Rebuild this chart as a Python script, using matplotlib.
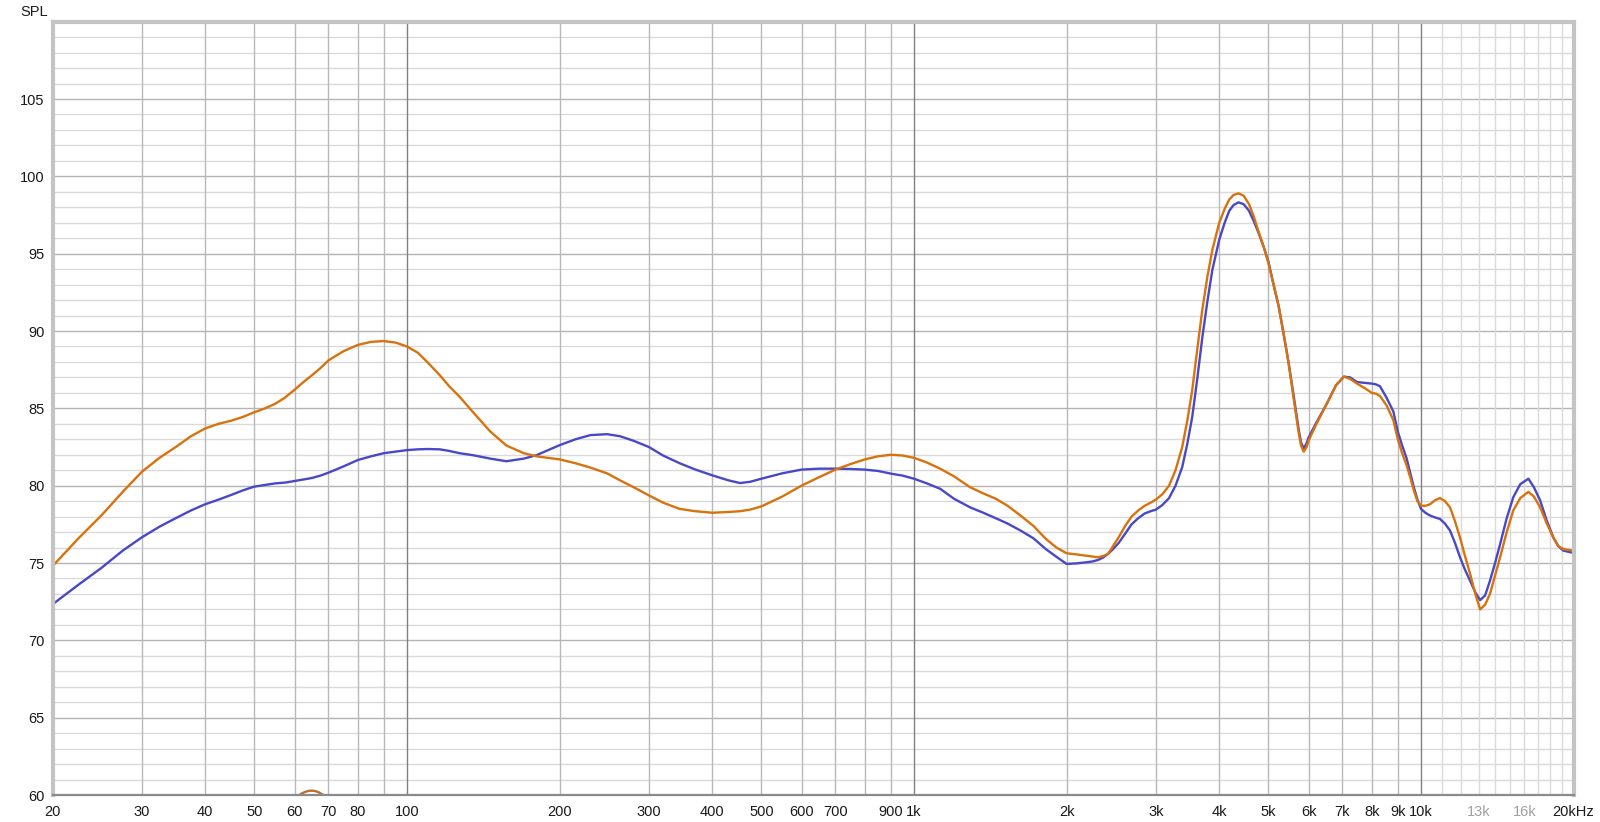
import numpy as np
import matplotlib
matplotlib.use("Agg")
import matplotlib.pyplot as plt
from matplotlib.ticker import FixedLocator, NullFormatter

# ---------------- data ----------------
freq_a = [20, 22.5, 25, 27.5, 30, 32.5, 35, 37.5, 40, 42.5, 45, 47.5, 50, 52.5, 55, 57.5, 60,
          62.5, 65, 67.5, 70, 75, 80, 85, 90, 95, 100, 105, 110, 116, 121, 127, 135, 146, 157,
          170, 180, 200, 215, 230, 248, 263, 280, 300, 320, 345, 370, 400, 430, 454, 475, 500,
          550, 600, 650, 700, 750, 800, 850, 900, 950, 1000, 1060, 1126, 1200, 1290, 1370, 1449,
          1530, 1622, 1720, 1820, 1910, 2000, 2100, 2180, 2250, 2307, 2360, 2416, 2470, 2534,
          2610, 2686, 2770, 2850, 2930, 3000, 3090, 3185, 3280, 3381, 3460, 3539, 3620, 3705,
          3790, 3878, 4000, 4100, 4186, 4270, 4366, 4470, 4580, 4680, 4795, 4900, 5000, 5120,
          5240, 5360, 5484, 5610, 5740, 5800, 5870, 5950, 6000, 6200, 6520, 6800, 7050, 7250,
          7480, 7750, 8000, 8150, 8300, 8550, 8820, 9000, 9180, 9372, 9530, 9680, 9840, 10000,
          10200, 10420, 10650, 10900, 11150, 11410, 11670, 11940, 12200, 12500, 12800, 13080,
          13380, 13680, 14000, 14320, 14760, 15210, 15700, 16290, 16700, 17180, 17680, 18240,
          18650, 19090, 20000]
spl_orange = [74.8, 76.6, 78.1, 79.6, 80.9, 81.8, 82.5, 83.2, 83.7, 84.0, 84.2, 84.45, 84.75, 85.0,
              85.3, 85.7, 86.2,
              86.7, 87.15, 87.6, 88.1, 88.7, 89.1, 89.3, 89.35, 89.25, 89.0, 88.6, 87.95, 87.15,
              86.45, 85.75, 84.75, 83.5, 82.6,
              82.1, 81.9, 81.7, 81.45, 81.17, 80.8, 80.35, 79.9, 79.37, 78.9, 78.5, 78.35, 78.25,
              78.3, 78.35, 78.45, 78.66,
              79.3, 80.0, 80.55, 81.04, 81.4, 81.7, 81.9, 82.0, 81.95, 81.8, 81.5, 81.1, 80.6, 79.9,
              79.5, 79.16,
              78.7, 78.07, 77.4, 76.56, 76.0, 75.63, 75.55, 75.48, 75.42, 75.37, 75.45, 75.6, 76.1,
              76.67,
              77.4, 78.0, 78.4, 78.7, 78.9, 79.1, 79.45, 80.0, 81.0, 82.5, 84.2, 86.2, 88.8, 91.4,
              93.5, 95.26, 97.0, 97.9, 98.5, 98.8, 98.9, 98.75, 98.2, 97.4, 96.3, 95.4, 94.4, 93.0,
              91.6, 89.8, 87.9, 85.6, 83.4, 82.6, 82.2, 82.5, 82.9, 83.9, 85.3, 86.5, 87.05, 86.9,
              86.6, 86.3, 86.0, 85.95, 85.8, 85.2, 84.24, 83.0, 82.1, 81.3, 80.5, 79.7, 79.0, 78.7,
              78.7, 78.8, 79.05, 79.2, 79.0, 78.6, 77.7, 76.65, 75.5, 74.3, 73.0, 72.0,
              72.3, 73.0, 74.2, 75.35, 77.0, 78.4, 79.2, 79.6, 79.3, 78.6, 77.6, 76.65,
              76.1, 75.9, 75.8]
spl_blue = [72.33, 73.6, 74.7, 75.8, 76.66, 77.35, 77.9, 78.4, 78.8, 79.1, 79.4, 79.7, 79.94, 80.05,
            80.15, 80.2, 80.3,
            80.4, 80.5, 80.65, 80.84, 81.25, 81.66, 81.9, 82.1, 82.2, 82.3, 82.35, 82.37, 82.35,
            82.25, 82.1, 81.97, 81.75, 81.58,
            81.75, 81.97, 82.62, 83.0, 83.27, 83.33, 83.2, 82.9, 82.5, 81.95, 81.45, 81.05, 80.67,
            80.35, 80.17, 80.25, 80.45,
            80.8, 81.04, 81.1, 81.1, 81.08, 81.04, 80.95, 80.78, 80.65, 80.45, 80.15, 79.8, 79.15,
            78.6, 78.25, 77.9,
            77.55, 77.1, 76.6, 75.9, 75.4, 74.94, 74.98, 75.04, 75.1, 75.2, 75.35, 75.6, 75.9,
            76.3,
            76.9, 77.5, 77.9, 78.2, 78.35, 78.45, 78.75, 79.2, 80.0, 81.2, 82.7, 84.46, 86.9, 89.6,
            91.9, 93.97, 95.9, 97.0, 97.77, 98.15, 98.32, 98.2, 97.77, 97.1, 96.25, 95.4, 94.5,
            93.0,
            91.6, 89.8, 87.9, 85.8, 83.6, 82.8, 82.4, 82.75, 83.1, 84.0, 85.3, 86.5, 87.05, 87.0,
            86.7, 86.65, 86.6, 86.55, 86.43, 85.7, 84.8, 83.5, 82.6, 81.75, 80.8, 79.9, 79.1, 78.5,
            78.25, 78.07, 77.95, 77.85, 77.55, 77.1, 76.3, 75.37, 74.6, 73.85, 73.1, 72.6,
            72.9, 73.85, 75.0, 76.2, 77.9, 79.26, 80.1, 80.45, 79.9, 79.05, 77.8, 76.65,
            76.1, 75.8, 75.65]

# third trace, almost entirely below the visible range
freq_c = [58, 60, 61, 62, 63, 64, 65, 66, 67, 68, 69, 70, 72]
spl_brown = [59.3, 59.8, 59.95, 60.1, 60.2, 60.27, 60.28, 60.25, 60.17, 60.05, 59.93, 59.8, 59.4]

x_major = [20, 30, 40, 50, 60, 70, 80, 90, 200, 300, 400, 500, 600, 700, 800, 900,
           2000, 3000, 4000, 5000, 6000, 7000, 8000, 9000]
x_decade = [100, 1000, 10000]
x_fine = [11000, 12000, 13000, 14000, 15000, 16000, 17000, 18000, 19000]
x_tick_pos = [20, 30, 40, 50, 60, 70, 80, 100, 200, 300, 400, 500, 600, 700, 900, 1000,
              2000, 3000, 4000, 5000, 6000, 7000, 8000, 9000, 10000, 13000, 16000, 20000]
x_tick_lab = ["20", "30", "40", "50", "60", "70", "80", "100", "200", "300", "400", "500", "600",
              "700", "900", "1k", "2k", "3k", "4k", "5k", "6k", "7k", "8k", "9k", "10k", "13k",
              "16k", "20kHz"]
y_ticks = [60, 65, 70, 75, 80, 85, 90, 95, 100, 105]

# ---------------- figure ----------------
plt.rcParams['font.family'] = ['Liberation Sans', 'DejaVu Sans']
fig = plt.figure(figsize=(16, 8.22), dpi=100)
W, H = 1600, 822
x0, x1 = 52.6, 1573.6
y_top, y_bot = 21.7, 795
ax = fig.add_axes([x0 / W, 1 - y_bot / H, (x1 - x0) / W, (y_bot - y_top) / H])
ax.set_xscale('log')
ax.set_xlim(20, 20000)
ax.set_ylim(60, 110)

# grid
for v in range(61, 110):
    if v % 5:
        ax.axhline(v, color='#dadada', lw=1.0, zorder=0)
for v in range(65, 110, 5):
    ax.axhline(v, color='#b4b4b4', lw=1.0, zorder=0.5)
for f in x_fine:
    ax.axvline(f, color='#dadada', lw=1.0, zorder=0.6)
for f in x_major:
    ax.axvline(f, color='#b8b8b8', lw=1.0, zorder=0.7)
for f in x_decade:
    ax.axvline(f, color='#808080', lw=1.0, zorder=0.8)

ax.plot(freq_c, spl_brown, color='#b8732e', lw=1.7, zorder=2, solid_capstyle='round')
ax.plot(freq_a, spl_blue, color='#4848c8', lw=1.7, zorder=3, solid_joinstyle='round')
ax.plot(freq_a, spl_orange, color='#d8720c', lw=1.7, zorder=4, solid_joinstyle='round')

# ticks
ax.xaxis.set_minor_locator(FixedLocator([]))
ax.xaxis.set_minor_formatter(NullFormatter())
ax.set_xticks(x_tick_pos)
ax.set_xticklabels(x_tick_lab)
ax.set_yticks(y_ticks)
ax.set_yticklabels([str(v) for v in y_ticks])
ax.tick_params(axis='both', length=0, labelsize=10.5, colors='#1a1a1a')
ax.tick_params(axis='x', pad=7)
ax.tick_params(axis='y', pad=6)
for lab in ax.get_xticklabels():
    if lab.get_text() in ("13k", "16k"):
        lab.set_color('#a0a0a0')

# frame
for side in ('left', 'top', 'right'):
    ax.spines[side].set_color('#c4c4c4')
    ax.spines[side].set_linewidth(3)
ax.spines['bottom'].set_color('#8a8a8a')
ax.spines['bottom'].set_linewidth(1.6)
for s in ax.spines.values():
    s.set_zorder(10)

fig.text(34 / W, 1 - 11.5 / H, "SPL", ha='center', va='center', fontsize=10.5, color='#1a1a1a')

fig.savefig("out.png", dpi=100, facecolor='white')
